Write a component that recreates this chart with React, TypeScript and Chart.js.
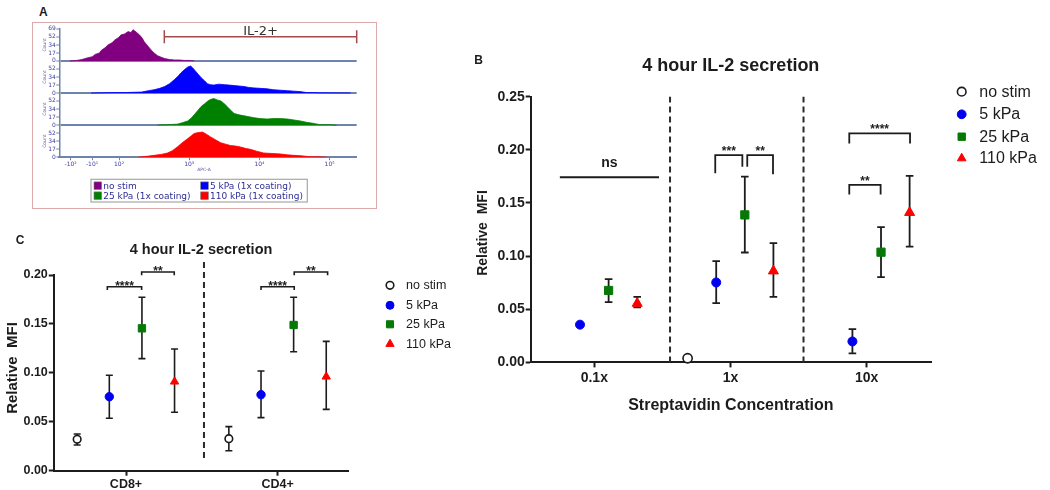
import React, { useEffect, useRef } from 'react';
import { Chart, registerables } from 'chart.js';

Chart.register(...registerables);

/* ================= Panel A : IL-2 flow histograms ================= */
const histTickValues = [1.31, 1.615, 2, 3, 4, 5];
const histTickLabels = ['-10²', '-10¹', '10²', '10³', '10⁴', '10⁵'];
const countTicks = [0, 17, 34, 52];
const countRowTop = 69;
const histLegendLabels = ['no stim', '5 kPa (1x coating)', '25 kPa (1x coating)', '110 kPa (1x coating)'];
const histColors = ['#800080', '#0000ff', '#008000', '#ff0000'];

const noStimHistX = [1.30, 1.40, 1.47, 1.56, 1.62, 1.66, 1.72, 1.75, 1.80, 1.84, 1.90, 1.94, 1.99, 2.03, 2.08, 2.13, 2.17, 2.20, 2.22, 2.26, 2.29, 2.33, 2.36, 2.41, 2.46, 2.50, 2.55, 2.60, 2.65, 2.72, 2.79, 2.86, 2.93, 3.00, 3.07];
const noStimHistY = [0, 1, 3, 7, 9, 14, 17, 23, 28, 34, 39, 45, 50, 56, 58, 63, 61, 67, 65, 60, 56, 49, 41, 32, 23, 17, 11, 8, 5, 3, 2, 2, 1, 1, 0];

const kPa5HistX = [1.60, 1.94, 2.10, 2.32, 2.42, 2.50, 2.58, 2.65, 2.72, 2.79, 2.84, 2.88, 2.93, 2.98, 3.02, 3.05, 3.09, 3.13, 3.17, 3.22, 3.26, 3.30, 3.35, 3.42, 3.50, 3.57, 3.64, 3.71, 3.78, 3.85, 3.92, 4.01, 4.11, 4.20, 4.30, 4.40, 4.49, 4.58, 4.67, 4.76, 4.86, 5.0, 5.3];
const kPa5HistY = [0, 1, 1, 2, 5, 7, 10, 14, 20, 29, 36, 43, 50, 56, 58, 54, 47, 40, 33, 26, 20, 18, 17, 19, 18, 17, 16, 15, 14, 12, 11, 10, 9, 7, 6, 5, 4, 3, 1, 1, 0.5, 0.3, 0.2];

const kPa25HistX = [2.55, 2.70, 2.83, 2.90, 2.98, 3.03, 3.07, 3.12, 3.17, 3.22, 3.26, 3.30, 3.35, 3.40, 3.45, 3.50, 3.54, 3.59, 3.64, 3.71, 3.78, 3.85, 3.92, 4.01, 4.11, 4.20, 4.30, 4.40, 4.49, 4.58, 4.67, 4.76, 4.86, 4.98, 5.10];
const kPa25HistY = [0, 1, 2, 5, 9, 15, 22, 31, 40, 46, 51, 55, 57, 54, 52, 46, 40, 32, 25, 22, 20, 18, 16, 14, 13, 14, 14, 13, 11, 9, 6, 4, 1, 1, 0];

const kPa110HistX = [2.27, 2.40, 2.50, 2.60, 2.69, 2.76, 2.83, 2.90, 2.98, 3.03, 3.07, 3.13, 3.19, 3.25, 3.31, 3.38, 3.45, 3.52, 3.59, 3.66, 3.73, 3.80, 3.87, 3.96, 4.06, 4.18, 4.30, 4.40, 4.49, 4.60, 4.72, 4.84, 4.96];
const kPa110HistY = [0, 2, 4, 6, 9, 14, 22, 31, 40, 46, 51, 53, 54, 49, 43, 37, 31, 28, 25, 24, 22, 19, 17, 13, 9, 8, 7, 5, 4, 3, 1, 1, 0];

const gateLabel = 'IL-2+';
const gateFrom = 2.645;
const gateTo = 5.386;
const gateLevel = 259;
const gateCapLow = 245;
const gateCapHigh = 273;

/* ================= Shared series ================= */
const seriesNames = ['no stim', '5 kPa', '25 kPa', '110 kPa'];

/* ================= Panel B : streptavidin concentration ================= */
const bCategories = ['0.1x', '1x', '10x'];
const bYTicks = [0, 0.05, 0.1, 0.15, 0.2, 0.25];
const bOffsets = [-0.315, -0.105, 0.105, 0.315];

const bNoStimMean = [null, 0.0039, null];
const bNoStimLow = [null, null, null];
const bNoStimHigh = [null, null, null];

const b5kPaMean = [0.0355, 0.0752, 0.0197];
const b5kPaLow = [0.0352, 0.0558, 0.0085];
const b5kPaHigh = [0.0358, 0.0953, 0.0314];

const b25kPaMean = [0.0677, 0.1388, 0.1037];
const b25kPaLow = [0.0568, 0.1034, 0.0803];
const b25kPaHigh = [0.0784, 0.1748, 0.1272];

const b110kPaMean = [0.0555, 0.086, 0.141];
const b110kPaLow = [0.0517, 0.0617, 0.109];
const b110kPaHigh = [0.0617, 0.1122, 0.1755];

const bDividers = [0.556, 1.536];
const bBracketX1 = [-0.253, 0.888, 1.123, 1.872, 1.872];
const bBracketX2 = [0.475, 1.087, 1.312, 2.318, 2.102];
const bBracketTop = [0.1742, 0.195, 0.195, 0.2154, 0.1671];
const bBracketLegL = [0.1742, 0.1779, 0.1841, 0.206, 0.158];
const bBracketLegR = [0.1742, 0.1841, 0.177, 0.206, 0.158];
const bBracketLabels = ['ns', '***', '**', '****', '**'];

/* ================= Panel C : CD8+ / CD4+ ================= */
const cCategories = ['CD8+', 'CD4+'];
const cYTicks = [0, 0.05, 0.1, 0.15, 0.2];
const cOffsets = [-0.322, -0.11, 0.105, 0.32];

const cNoStimMean = [0.0321, 0.0327];
const cNoStimLow = [0.0263, 0.0204];
const cNoStimHigh = [0.0375, 0.045];

const c5kPaMean = [0.0756, 0.0777];
const c5kPaLow = [0.0536, 0.0542];
const c5kPaHigh = [0.0975, 0.1019];

const c25kPaMean = [0.1455, 0.1489];
const c25kPaLow = [0.1145, 0.1216];
const c25kPaHigh = [0.1772, 0.1772];

const c110kPaMean = [0.091, 0.0961];
const c110kPaLow = [0.0597, 0.0627];
const c110kPaHigh = [0.1244, 0.1322];

const cDividers = [0.514];
const cBracketX1 = [-0.123, 0.103, 0.89, 1.109];
const cBracketX2 = [0.103, 0.318, 1.109, 1.329];
const cBracketTop = [0.188, 0.2031, 0.188, 0.2031];
const cBracketLegL = [0.1847, 0.1997, 0.1847, 0.1997];
const cBracketLegR = [0.1847, 0.1997, 0.1847, 0.1997];
const cBracketLabels = ['****', '**', '****', '**'];

/* ================= styles ================= */
const INK = '#1c1c1c';
const SANS = '"Liberation Sans", Arial, sans-serif';
const VERD = '"DejaVu Sans", Verdana, sans-serif';
const markerStyles = [
  { pointStyle: 'circle', fill: '#ffffff', stroke: '#1a1a1a', border: 1.6 },
  { pointStyle: 'circle', fill: '#0000f0', stroke: '#0000f0', border: 1 },
  { pointStyle: 'rect', fill: '#067806', stroke: '#067806', border: 1 },
  { pointStyle: 'triangle', fill: '#ff0000', stroke: '#ff0000', border: 1 },
];

function drawMarker(ctx: any, style: string, x: number, y: number, r: number, fill: string, stroke: string, lw: number) {
  ctx.beginPath();
  if (style === 'circle') {
    ctx.arc(x, y, r, 0, Math.PI * 2);
  } else if (style === 'rect') {
    const s = Math.SQRT1_2 * r;
    ctx.rect(x - s, y - s, 2 * s, 2 * s);
  } else {
    ctx.moveTo(x, y - r);
    ctx.lineTo(x + r * Math.sin((2 * Math.PI) / 3), y - r * Math.cos((2 * Math.PI) / 3));
    ctx.lineTo(x + r * Math.sin((4 * Math.PI) / 3), y - r * Math.cos((4 * Math.PI) / 3));
  }
  ctx.closePath();
  ctx.fillStyle = fill;
  ctx.fill();
  ctx.lineWidth = lw;
  ctx.strokeStyle = stroke;
  ctx.stroke();
}

/* ================= Panel A chart ================= */
function buildA(): any {
  const rows = [
    { x: noStimHistX, y: noStimHistY },
    { x: kPa5HistX, y: kPa5HistY },
    { x: kPa25HistX, y: kPa25HistY },
    { x: kPa110HistX, y: kPa110HistY },
  ];
  const nRows = rows.length;
  const datasets: any[] = rows.map((r, idx) => {
    const base = (nRows - 1 - idx) * countRowTop;
    return {
      type: 'line',
      label: histLegendLabels[idx],
      data: r.x.map((xv, i) => ({ x: xv, y: base + r.y[i] })),
      borderColor: histColors[idx],
      backgroundColor: histColors[idx],
      borderWidth: 0.8,
      pointRadius: 0,
      tension: 0,
      fill: { value: base },
    };
  });
  datasets.push({
    type: 'line',
    label: gateLabel,
    data: [
      { x: gateFrom, y: gateCapLow }, { x: gateFrom, y: gateCapHigh }, { x: gateFrom, y: gateLevel },
      { x: gateTo, y: gateLevel }, { x: gateTo, y: gateCapHigh }, { x: gateTo, y: gateCapLow },
    ],
    borderColor: '#a34a4a',
    borderWidth: 1.5,
    pointRadius: 0,
    tension: 0,
    fill: false,
    clip: false,
  });

  const rowTicks: number[] = [];
  for (let k = 0; k < nRows; k++) countTicks.forEach((v) => rowTicks.push(k * countRowTop + v));
  rowTicks.push(nRows * countRowTop);
  const axisBlue = '#7084ab';
  const tickFont = { family: VERD, size: 6 };

  const decor = {
    id: 'panelADecor',
    afterDraw(chart: any) {
      const { ctx, scales } = chart;
      const xs = scales.x;
      const ys = scales.y;
      ctx.save();
      ctx.fillStyle = '#6060a8';
      ctx.font = `4.5px ${VERD}`;
      ctx.textAlign = 'center';
      ctx.textBaseline = 'middle';
      for (let k = 0; k < nRows; k++) {
        const cy = ys.getPixelForValue(k * countRowTop + countRowTop / 2);
        ctx.save();
        ctx.translate(11.5, cy);
        ctx.rotate(-Math.PI / 2);
        ctx.fillText('Count', 0, 0);
        ctx.restore();
      }
      ctx.fillText('APC-A', 171, 147);
      const gx = (xs.getPixelForValue(gateFrom) + xs.getPixelForValue(gateTo)) / 2;
      const gy = ys.getPixelForValue(gateLevel);
      ctx.fillStyle = '#333333';
      ctx.font = `13px ${VERD}`;
      ctx.textBaseline = 'alphabetic';
      ctx.fillText(gateLabel, gx, gy - 1.8);
      // legend
      ctx.strokeStyle = '#a8a8a8';
      ctx.lineWidth = 1.2;
      ctx.strokeRect(58, 156.3, 216.3, 22.7);
      const cols = [61, 167.7];
      const texts = [70.3, 177];
      const rowsY = [162.7, 172.7];
      ctx.font = `9px ${VERD}`;
      ctx.textAlign = 'left';
      ctx.textBaseline = 'middle';
      histLegendLabels.forEach((lab, i) => {
        const c = i % 2;
        const r = Math.floor(i / 2);
        ctx.fillStyle = histColors[i];
        ctx.fillRect(cols[c], rowsY[r] - 3.8, 7.6, 7.6);
        ctx.strokeStyle = '#777';
        ctx.lineWidth = 0.6;
        ctx.strokeRect(cols[c], rowsY[r] - 3.8, 7.6, 7.6);
        ctx.fillStyle = '#2e2e94';
        ctx.fillText(lab, texts[c], rowsY[r] + 0.5);
      });
      ctx.restore();
    },
  };

  return {
    type: 'line',
    data: { datasets },
    options: {
      responsive: false,
      animation: false,
      events: [],
      layout: { padding: { left: 10.3, top: 5.8, right: 19.3, bottom: 36.8 } },
      plugins: { legend: { display: false }, tooltip: { enabled: false }, title: { display: false } },
      scales: {
        x: {
          type: 'linear',
          min: 1.149,
          max: 5.386,
          bounds: 'data',
          afterFit: (s: any) => { s.height = 14; },
          afterBuildTicks: (s: any) => { s.ticks = histTickValues.map((v) => ({ value: v })); },
          ticks: {
            callback: (_v: any, i: number) => histTickLabels[i],
            font: tickFont,
            color: '#3c3ca0',
            padding: 1,
            autoSkip: false,
            maxRotation: 0,
          },
          grid: { display: true, drawOnChartArea: false, drawTicks: true, tickLength: 3, tickColor: axisBlue, tickWidth: 1 },
          border: { display: true, color: axisBlue, width: 2 },
        },
        y: {
          type: 'linear',
          min: 0,
          max: nRows * countRowTop,
          bounds: 'data',
          afterFit: (s: any) => { s.width = 16; },
          afterBuildTicks: (s: any) => { s.ticks = rowTicks.map((v) => ({ value: v })); },
          ticks: {
            callback: (v: any) => (v === nRows * countRowTop ? String(countRowTop) : String(v % countRowTop)),
            font: tickFont,
            color: '#3c3ca0',
            padding: 0.5,
            autoSkip: false,
          },
          grid: {
            display: true,
            drawOnChartArea: true,
            drawTicks: true,
            tickLength: 3,
            tickColor: axisBlue,
            tickWidth: 1,
            lineWidth: 2,
            color: (c: any) => {
              const v = c.tick ? c.tick.value : -1;
              return v > 0 && v < nRows * countRowTop && v % countRowTop === 0 ? axisBlue : 'rgba(0,0,0,0)';
            },
          },
          border: { display: true, color: axisBlue, width: 1.5 },
        },
      },
    },
    plugins: [decor],
  };
}

/* ================= Panels B and C (grouped scatter) ================= */
type Num = number | null;

function seriesPoints(means: Num[], offset: number) {
  const out: any[] = [];
  means.forEach((m, i) => { if (m !== null) out.push({ x: i + offset, y: m }); });
  return out;
}

function seriesErrors(means: Num[], lows: Num[], highs: Num[], offset: number) {
  const out: any[] = [];
  means.forEach((m, i) => {
    if (m !== null && lows[i] !== null && highs[i] !== null) out.push({ x: i + offset, lo: lows[i], hi: highs[i] });
  });
  return out;
}

function buildScatter(p: any): any {
  const datasets: any[] = [];
  const errorBars: any[] = [];
  p.means.forEach((means: Num[], s: number) => {
    const st = markerStyles[s];
    datasets.push({
      type: 'scatter',
      label: seriesNames[s],
      data: seriesPoints(means, p.offsets[s]),
      pointStyle: st.pointStyle,
      pointRadius: p.radii[s],
      pointHoverRadius: p.radii[s],
      backgroundColor: st.fill,
      borderColor: st.stroke,
      borderWidth: st.border,
      clip: false,
    });
    seriesErrors(means, p.lows[s], p.highs[s], p.offsets[s]).forEach((e) => errorBars.push(e));
  });
  p.bx1.forEach((x1: number, i: number) => {
    datasets.push({
      type: 'line',
      label: 'bracket ' + p.blabels[i],
      data: [
        { x: x1, y: p.blegL[i] }, { x: x1, y: p.btop[i] },
        { x: p.bx2[i], y: p.btop[i] }, { x: p.bx2[i], y: p.blegR[i] },
      ],
      borderColor: INK,
      borderWidth: p.bracketWidth,
      pointRadius: 0,
      tension: 0,
      fill: false,
      clip: false,
    });
  });
  p.dividers.forEach((d: number) => {
    datasets.push({
      type: 'line',
      label: 'divider',
      data: [{ x: d, y: p.dividerFrom }, { x: d, y: p.dividerTo }],
      borderColor: '#2a2a2a',
      borderWidth: 2,
      borderDash: [6, 4],
      pointRadius: 0,
      fill: false,
      clip: false,
    });
  });

  const decor = {
    id: 'scatterDecor',
    beforeDatasetsDraw(chart: any) {
      const { ctx, scales } = chart;
      const xs = scales.x;
      const ys = scales.y;
      ctx.save();
      ctx.strokeStyle = INK;
      ctx.lineWidth = p.errWidth;
      errorBars.forEach((e) => {
        const px = xs.getPixelForValue(e.x);
        const p1 = ys.getPixelForValue(e.lo);
        const p2 = ys.getPixelForValue(e.hi);
        ctx.beginPath();
        ctx.moveTo(px, p1); ctx.lineTo(px, p2);
        ctx.moveTo(px - p.capHalf, p1); ctx.lineTo(px + p.capHalf, p1);
        ctx.moveTo(px - p.capHalf, p2); ctx.lineTo(px + p.capHalf, p2);
        ctx.stroke();
      });
      ctx.restore();
    },
    afterDraw(chart: any) {
      const { ctx, scales, chartArea } = chart;
      const xs = scales.x;
      const ys = scales.y;
      ctx.save();
      ctx.fillStyle = INK;
      ctx.textAlign = 'center';
      ctx.textBaseline = 'alphabetic';
      p.blabels.forEach((lab: string, i: number) => {
        const cx = xs.getPixelForValue((p.bx1[i] + p.bx2[i]) / 2);
        const ty = ys.getPixelForValue(p.btop[i]);
        if (lab === 'ns') {
          ctx.font = `bold ${p.nsSize}px ${SANS}`;
          ctx.fillText(lab, cx, ty - p.nsGap);
        } else {
          ctx.font = `bold ${p.starSize}px ${SANS}`;
          ctx.fillText(lab, cx, ty - p.starLift + 0.57 * p.starSize);
        }
      });
      ctx.font = `bold ${p.titleSize}px ${SANS}`;
      ctx.textBaseline = 'middle';
      ctx.fillText(p.title, (chartArea.left + chartArea.right) / 2, p.titleY);
      if (p.xTitle) {
        ctx.font = `bold ${p.xTitleSize}px ${SANS}`;
        ctx.fillText(p.xTitle, (chartArea.left + chartArea.right) / 2, p.xTitleY);
      }
      ctx.save();
      ctx.translate(p.yTitleX, p.yTitleY);
      ctx.rotate(-Math.PI / 2);
      ctx.font = `bold ${p.yTitleSize}px ${SANS}`;
      ctx.fillText('Relative  MFI', 0, 0);
      ctx.restore();
      seriesNames.forEach((name, s) => {
        const st = markerStyles[s];
        const ly = p.legendRows[s];
        drawMarker(ctx, st.pointStyle, p.legendMarkerX, ly, p.legendRadii[s], st.fill, st.stroke, st.border);
        ctx.fillStyle = INK;
        ctx.font = `${p.legendSize}px ${SANS}`;
        ctx.textAlign = 'left';
        ctx.textBaseline = 'middle';
        ctx.fillText(name, p.legendTextX, ly + 0.5);
      });
      ctx.restore();
    },
  };

  const tickFont = { family: SANS, size: p.tickSize, weight: 'bold' };
  return {
    type: 'scatter',
    data: { datasets },
    options: {
      responsive: false,
      animation: false,
      events: [],
      layout: { padding: p.padding },
      plugins: { legend: { display: false }, tooltip: { enabled: false }, title: { display: false } },
      scales: {
        x: {
          type: 'linear',
          min: p.xMin,
          max: p.xMax,
          bounds: 'data',
          afterFit: (s: any) => { s.height = p.xAxisH; },
          afterBuildTicks: (s: any) => { s.ticks = p.categories.map((_c: string, i: number) => ({ value: i })); },
          ticks: {
            callback: (_v: any, i: number) => p.categories[i],
            font: tickFont,
            color: INK,
            padding: p.xTickPad,
            autoSkip: false,
            maxRotation: 0,
          },
          grid: { display: true, drawOnChartArea: false, drawTicks: true, tickLength: 5, tickColor: INK, tickWidth: 2 },
          border: { display: true, color: INK, width: 2 },
        },
        y: {
          type: 'linear',
          min: 0,
          max: p.yTicks[p.yTicks.length - 1],
          bounds: 'data',
          afterFit: (s: any) => { s.width = p.yAxisW; },
          afterBuildTicks: (s: any) => { s.ticks = p.yTicks.map((v: number) => ({ value: v })); },
          ticks: {
            callback: (v: any) => Number(v).toFixed(2),
            font: tickFont,
            color: INK,
            padding: 1,
            autoSkip: false,
          },
          grid: { display: true, drawOnChartArea: false, drawTicks: true, tickLength: 5, tickColor: INK, tickWidth: 2 },
          border: { display: true, color: INK, width: 2 },
        },
      },
    },
    plugins: [decor],
  };
}

function buildB(): any {
  return buildScatter({
    categories: bCategories,
    yTicks: bYTicks,
    offsets: bOffsets,
    means: [bNoStimMean, b5kPaMean, b25kPaMean, b110kPaMean],
    lows: [bNoStimLow, b5kPaLow, b25kPaLow, b110kPaLow],
    highs: [bNoStimHigh, b5kPaHigh, b25kPaHigh, b110kPaHigh],
    radii: [4.6, 4.5, 5.8, 5.8],
    legendRadii: [4.3, 4.4, 5.2, 5.0],
    bx1: bBracketX1, bx2: bBracketX2, btop: bBracketTop, blegL: bBracketLegL, blegR: bBracketLegR, blabels: bBracketLabels,
    dividers: bDividers, dividerFrom: 0, dividerTo: 0.25,
    xMin: -0.467, xMax: 2.472,
    padding: { left: 10.7, top: 56.7, right: 119, bottom: 47.6 },
    xAxisH: 30, yAxisW: 50, xTickPad: 2, tickSize: 14,
    errWidth: 1.8, capHalf: 3.8, bracketWidth: 1.8,
    nsSize: 14, nsGap: 10.7, starSize: 12, starLift: 7,
    title: '4 hour IL-2 secretion', titleSize: 18, titleY: 26,
    xTitle: 'Streptavidin Concentration', xTitleSize: 16, xTitleY: 366,
    yTitleX: 13, yTitleY: 193, yTitleSize: 14,
    legendMarkerX: 491.7, legendTextX: 509.3, legendRows: [51.7, 74.3, 96.7, 118.3], legendSize: 16,
  });
}

function buildC(): any {
  return buildScatter({
    categories: cCategories,
    yTicks: cYTicks,
    offsets: cOffsets,
    means: [cNoStimMean, c5kPaMean, c25kPaMean, c110kPaMean],
    lows: [cNoStimLow, c5kPaLow, c25kPaLow, c110kPaLow],
    highs: [cNoStimHigh, c5kPaHigh, c25kPaHigh, c110kPaHigh],
    radii: [3.8, 4.2, 5.2, 4.8],
    legendRadii: [3.8, 4.0, 5.0, 4.8],
    bx1: cBracketX1, bx2: cBracketX2, btop: cBracketTop, blegL: cBracketLegL, blegR: cBracketLegR, blabels: cBracketLabels,
    dividers: cDividers, dividerFrom: 0.013, dividerTo: 0.2174,
    xMin: -0.476, xMax: 1.4654,
    padding: { left: 13.8, top: 50, right: 131.7, bottom: 1.3 },
    xAxisH: 18, yAxisW: 40, xTickPad: 1, tickSize: 12.5,
    errWidth: 1.6, capHalf: 3.5, bracketWidth: 1.6,
    nsSize: 12, nsGap: 8, starSize: 12, starLift: 4,
    title: '4 hour IL-2 secretion', titleSize: 14.5, titleY: 25,
    xTitle: '', xTitleSize: 14, xTitleY: 0,
    yTitleX: 13.3, yTitleY: 143, yTitleSize: 15,
    legendMarkerX: 390, legendTextX: 406, legendRows: [60.3, 80.3, 99.3, 119], legendSize: 12.5,
  });
}

const letterStyle: any = {
  position: 'absolute',
  fontFamily: SANS,
  fontWeight: 'bold',
  fontSize: 12,
  color: INK,
  lineHeight: '12px',
  transform: 'translate(-50%, -50%)',
};

export default function App() {
  const aRef = useRef<HTMLCanvasElement | null>(null);
  const bRef = useRef<HTMLCanvasElement | null>(null);
  const cRef = useRef<HTMLCanvasElement | null>(null);

  useEffect(() => {
    const charts: any[] = [];
    if (aRef.current) charts.push(new Chart(aRef.current, buildA()));
    if (bRef.current) charts.push(new Chart(bRef.current, buildB()));
    if (cRef.current) charts.push(new Chart(cRef.current, buildC()));
    return () => charts.forEach((c) => c.destroy());
  }, []);

  return (
    <div style={{ position: 'fixed', left: 0, top: 0, width: 1050, height: 490, background: '#ffffff', overflow: 'hidden' }}>
      <div style={{ position: 'absolute', left: 32, top: 22, width: 345, height: 187, border: '1.5px solid #dcaaaa', boxSizing: 'border-box' }} />
      <canvas ref={aRef} width={343} height={185} style={{ position: 'absolute', left: 33, top: 23 }} />
      <canvas ref={bRef} width={580} height={400} style={{ position: 'absolute', left: 470, top: 40 }} />
      <canvas ref={cRef} width={480} height={265} style={{ position: 'absolute', left: 0, top: 225 }} />
      <div style={{ ...letterStyle, left: 43.3, top: 12.3 }}>A</div>
      <div style={{ ...letterStyle, left: 478.7, top: 60 }}>B</div>
      <div style={{ ...letterStyle, left: 20, top: 240 }}>C</div>
    </div>
  );
}
